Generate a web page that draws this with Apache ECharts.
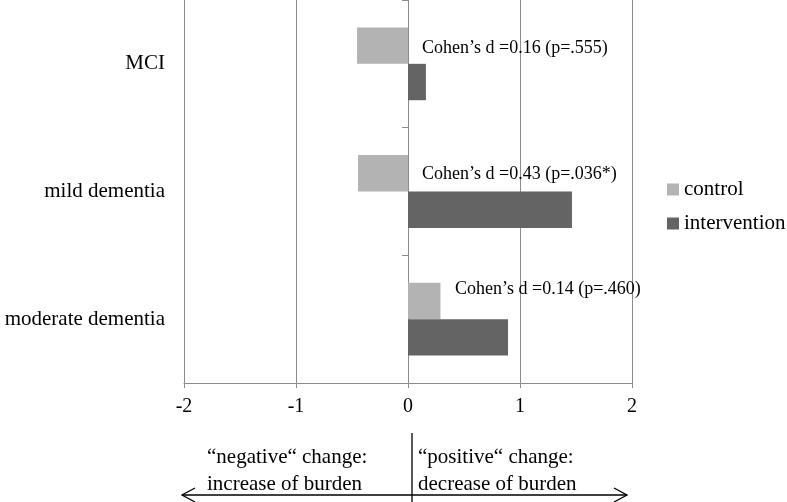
<!DOCTYPE html>
<html><head><meta charset="utf-8">
<script src="https://cdn.jsdelivr.net/npm/echarts@6/dist/echarts.min.js"></script>
<style>html,body{margin:0;padding:0;background:#fff}#c{width:787px;height:502px}</style>
</head><body><div id="c"></div>
<script>
const categories = ['MCI', 'mild dementia', 'moderate dementia'];
const controlValues = [-0.455, -0.446, 0.29];
const interventionValues = [0.16, 1.464, 0.893];
const seriesNames = ['control', 'intervention'];
const annotations = ['Cohen’s d =0.16 (p=.555)', 'Cohen’s d =0.43 (p=.036*)', 'Cohen’s d =0.14 (p=.460)'];
const annotationX = [0.125, 0.125, 0.42];
const leftNote = ['“negative“ change:', 'increase of burden'];
const rightNote = ['“positive“ change:', 'decrease of burden'];

const FONT = '"Liberation Serif", "Times New Roman", serif';
const GRIDC = '#8c8c8c';
const annoDy = [-16, -17, -30];

const chart = echarts.init(document.getElementById('c'), null, {renderer: 'canvas'});
chart.setOption({
  animation: false,
  backgroundColor: '#fff',
  textStyle: {fontFamily: FONT},
  grid: {left: 184, right: 155, top: 0, bottom: 119, containLabel: false, outerBoundsMode: 'none'},
  legend: {
    orient: 'vertical', left: 667, top: 179, icon: 'rect', padding: 0,
    itemWidth: 12, itemHeight: 12, itemGap: 13,
    data: seriesNames,
    textStyle: {fontSize: 21, fontFamily: FONT, color: '#000'}
  },
  xAxis: {
    type: 'value', min: -2, max: 2, interval: 1,
    axisLine: {show: true, lineStyle: {color: GRIDC, width: 1}},
    axisTick: {show: true, length: 5, lineStyle: {color: GRIDC}},
    axisLabel: {fontSize: 20, fontFamily: FONT, color: '#000', margin: 14},
    splitLine: {show: true, lineStyle: {color: GRIDC, width: 1}}
  },
  yAxis: {
    type: 'category', inverse: true, data: categories,
    axisLine: {show: true, onZero: true, lineStyle: {color: GRIDC, width: 1}},
    axisTick: {show: true, length: 6, lineStyle: {color: GRIDC}},
    axisLabel: {fontSize: 21, fontFamily: FONT, color: '#000', margin: 19},
    splitLine: {show: false}
  },
  series: [
    {name: seriesNames[0], type: 'bar', data: controlValues, barGap: '0%', barCategoryGap: '43%',
     itemStyle: {color: '#b3b3b3'}},
    {name: seriesNames[1], type: 'bar', data: interventionValues, barGap: '0%', barCategoryGap: '43%',
     itemStyle: {color: '#646464'}},
    {type: 'scatter', silent: true, z: 10, symbolSize: 0.01, itemStyle: {color: '#000'},
     data: annotations.map((t, i) => ({value: [annotationX[i], i], label: {offset: [0, annoDy[i]]}})),
     label: {show: true, position: 'right', distance: 0, fontSize: 18, fontFamily: FONT, color: '#000', opacity: 1,
             formatter: p => annotations[p.dataIndex]}}
  ]
});

const x0 = chart.convertToPixel({xAxisIndex: 0}, 0);
const xL = chart.convertToPixel({xAxisIndex: 0}, -2);
const xR = chart.convertToPixel({xAxisIndex: 0}, 2);
const ay = 495;
const ts = {font: '21px ' + FONT, fill: '#000', align: 'left', verticalAlign: 'middle'};
const g = [];
leftNote.forEach((t, i) => g.push({type: 'text', style: Object.assign({text: t, x: xL + 23, y: 457 + i * 27}, ts)}));
rightNote.forEach((t, i) => g.push({type: 'text', style: Object.assign({text: t, x: x0 + 10, y: 457 + i * 27}, ts)}));
g.push({type: 'line', shape: {x1: x0 + 4, y1: 433, x2: x0 + 4, y2: 502}, style: {stroke: '#000', lineWidth: 1.3}});
g.push({type: 'line', shape: {x1: xL - 2, y1: ay, x2: xR - 5, y2: ay}, style: {stroke: '#000', lineWidth: 1.3}});
g.push({type: 'polyline', shape: {points: [[xL + 11, ay - 7], [xL - 2, ay], [xL + 11, ay + 7]]}, style: {stroke: '#000', lineWidth: 1.3, fill: null}});
g.push({type: 'polyline', shape: {points: [[xR - 18, ay - 7], [xR - 5, ay], [xR - 18, ay + 7]]}, style: {stroke: '#000', lineWidth: 1.3, fill: null}});
chart.setOption({graphic: g});
</script></body></html>
